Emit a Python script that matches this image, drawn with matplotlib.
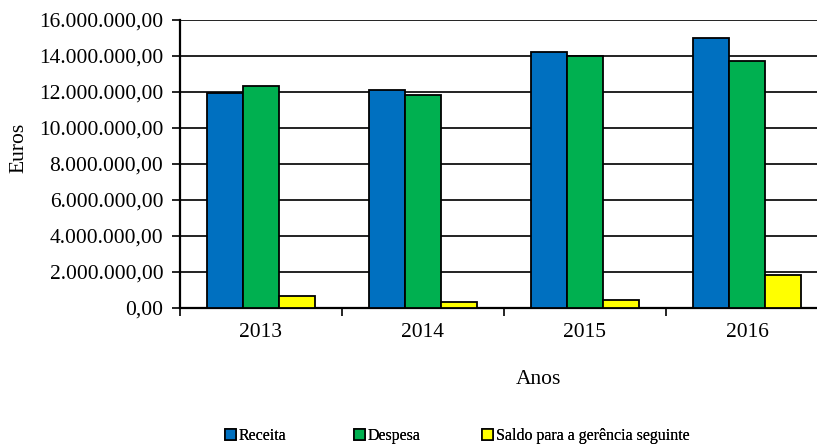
import matplotlib

matplotlib.use("Agg")
import matplotlib.pyplot as plt
from matplotlib.patches import Patch
from matplotlib.ticker import FuncFormatter, MultipleLocator

YEARS = ["2013", "2014", "2015", "2016"]
RECEITA = [11.93e6, 12.10e6, 14.20e6, 14.98e6]
DESPESA = [12.33e6, 11.85e6, 14.00e6, 13.74e6]
SALDO = [0.67e6, 0.33e6, 0.44e6, 1.85e6]
SERIES_NAMES = ["Receita", "Despesa", "Saldo para a gerência seguinte"]
COLORS = ["#0070c0", "#00b050", "#ffff00"]
LEGEND_X = [225, 354, 482]


def euro_fmt(v, pos):
    s = f"{v:,.2f}"
    return s.replace(",", "X").replace(".", ",").replace("X", ".")


def main() -> None:
    plt.rcParams["font.family"] = ["Liberation Serif", "DejaVu Serif"]

    fig = plt.figure(figsize=(8.17, 4.45), dpi=100)
    ax = fig.add_axes([180 / 817, 137 / 445, 648 / 817, 288 / 445])

    w = 0.222
    centers = [i + 0.5 for i in range(len(YEARS))]
    for k, (vals, color) in enumerate(zip([RECEITA, DESPESA, SALDO], COLORS)):
        xs = [c + (k - 1) * w for c in centers]
        ax.bar(xs, vals, width=w, color=color, edgecolor="black", linewidth=1.3, zorder=3)

    ax.set_xlim(0, len(YEARS))
    ax.set_ylim(0, 16e6)
    ax.yaxis.set_major_locator(MultipleLocator(2e6))
    ax.yaxis.set_major_formatter(FuncFormatter(euro_fmt))
    ax.grid(axis="y", color="#222222", linewidth=1.4, zorder=0)

    ax.set_xticks(range(len(YEARS) + 1))
    ax.set_xticklabels([])
    ax.set_xticks(centers, minor=True)
    ax.set_xticklabels(YEARS, minor=True)
    ax.tick_params(axis="x", which="minor", length=0, pad=11, labelsize=15.5)
    ax.tick_params(axis="x", which="major", length=6, width=1.2, direction="out")
    ax.tick_params(axis="y", length=6, width=1.2, direction="out", labelsize=15.5, pad=6)

    for side in ["top", "right"]:
        ax.spines[side].set_visible(False)
    ax.spines["left"].set_linewidth(1.6)
    ax.spines["bottom"].set_linewidth(1.6)

    fig.text(19 / 817, 1 - 148 / 445, "Euros", rotation=90, ha="center", va="center", fontsize=15.5)
    fig.text(538 / 817, 1 - 379 / 445, "Anos", ha="center", va="center", fontsize=15.5)

    for name, color, lx in zip(SERIES_NAMES, COLORS, LEGEND_X):
        leg = fig.legend(
            [Patch(facecolor=color, edgecolor="black", linewidth=1.2)],
            [name],
            loc="center left",
            bbox_to_anchor=(lx / 817, 1 - 436 / 445),
            frameon=False,
            fontsize=11.5,
            handlelength=0.7,
            handleheight=0.7,
            handletextpad=0.15,
            borderpad=0,
            borderaxespad=0,
        )
        fig.add_artist(leg)

    fig.savefig("out.png", dpi=100, facecolor="white")
    plt.close(fig)


if __name__ == "__main__":
    main()
